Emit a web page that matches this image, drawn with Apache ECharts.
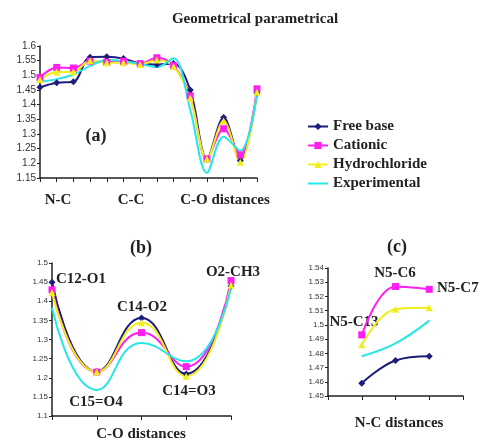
<!DOCTYPE html>
<html>
<head>
<meta charset="utf-8">
<script src="https://cdn.jsdelivr.net/npm/echarts@6/dist/echarts.min.js"></script>
<style>
  html, body { margin: 0; padding: 0; background: #fff; }
  #chart { width: 481px; height: 441px; }
</style>
</head>
<body>
<div id="chart"></div>
<script>
// bond names
const ncCats = ['N5-C13', 'N5-C6', 'N5-C7']
const ccCats = ['C-C1', 'C-C2', 'C-C3', 'C-C4', 'C-C5', 'C-C6']
const coCats = ['C12-O1', 'C15=O4', 'C14-O2', 'C14=O3', 'O2-CH3']

// bond lengths (A)
const freeNC = [1.459, 1.475, 1.478]
const freeCC = [1.562, 1.563, 1.557, 1.540, 1.537, 1.540]
const freeCO = [1.450, 1.216, 1.356, 1.210, 1.440]
const catNC = [1.493, 1.527, 1.525]
const catCC = [1.548, 1.545, 1.548, 1.540, 1.560, 1.533]
const catCO = [1.430, 1.215, 1.318, 1.229, 1.454]
const hydNC = [1.486, 1.511, 1.512]
const hydCC = [1.550, 1.543, 1.543, 1.537, 1.552, 1.530]
const hydCO = [1.423, 1.215, 1.344, 1.204, 1.442]
const expNC = [1.478, 1.487, 1.503]
const expCC = [1.532, 1.552, 1.548, 1.539, 1.528, 1.558]
const expCO = [1.383, 1.168, 1.291, 1.243, 1.435]

const seriesDefs = [
  { name: 'Free base', color: '#1c1c7a', symbol: 'diamond', size: 7, nc: freeNC, cc: freeCC, co: freeCO },
  { name: 'Cationic', color: '#ff1ef0', symbol: 'rect', size: 7, nc: catNC, cc: catCC, co: catCO },
  { name: 'Hydrochloride', color: '#f2ee1a', symbol: 'triangle', size: 7, nc: hydNC, cc: hydCC, co: hydCO },
  { name: 'Experimental', color: '#26e6e6', symbol: 'none', size: 0, nc: expNC, cc: expCC, co: expCO }
]

const serif = '"Liberation Serif", "Times New Roman", serif'
const axisLine = { show: true, lineStyle: { color: '#222', width: 1.5 } }

function yAxis(idx, min, max, interval, fs){
  return {
    type: 'value', gridIndex: idx, min: min, max: max, interval: interval,
    axisLine: axisLine,
    axisTick: { show: true, length: 3, lineStyle: { color: '#222' } },
    axisLabel: {
      margin: 4, fontSize: fs, color: '#333',
      fontFamily: '"Liberation Sans", Arial, sans-serif',
      formatter: v => +v.toFixed(2) + ''
    },
    splitLine: { show: false }
  }
}
function xAxis(idx, cats){
  return {
    type: 'category', gridIndex: idx, data: cats, boundaryGap: false,
    axisLine: axisLine,
    axisTick: { show: true, length: 4, interval: 0, lineStyle: { color: '#222' } },
    axisLabel: { show: false }
  }
}

const chart = echarts.init(document.getElementById('chart'))

const series = []
seriesDefs.forEach(d => {
  const base = {
    name: d.name, type: 'line', smooth: 0.35,
    symbol: d.symbol, symbolSize: d.size, showSymbol: d.symbol !== 'none',
    lineStyle: { color: d.color, width: 2 },
    itemStyle: { color: d.color },
    emphasis: { disabled: true }
  }
  series.push(Object.assign({}, base, { xAxisIndex: 0, yAxisIndex: 0, data: d.nc.concat(d.cc, d.co) }))
  series.push(Object.assign({}, base, { xAxisIndex: 1, yAxisIndex: 1, smooth: 0.5, data: d.co }))
  series.push(Object.assign({}, base, { xAxisIndex: 2, yAxisIndex: 2, smooth: 0.4, data: [null].concat(d.nc, [null]) }))
})

function txt(x, y, text, size, align){
  return {
    type: 'text', x: x, y: y,
    style: { text: text, font: 'bold ' + size + 'px ' + serif, fill: '#222', align: align || 'center', verticalAlign: 'middle' }
  }
}

const option = {
  animation: false,
  title: {
    text: 'Geometrical parametrical', left: 250, top: 7, textAlign: 'center',
    textStyle: { fontFamily: serif, fontSize: 15, fontWeight: 'bold', color: '#222' }
  },
  legend: {
    orient: 'vertical', left: 302, top: 114,
    itemWidth: 20, itemHeight: 9, itemGap: 4,
    data: seriesDefs.map(d => d.symbol === 'none'
      ? { name: d.name, itemStyle: { opacity: 0 } }
      : { name: d.name }),
    textStyle: { fontFamily: serif, fontSize: 15, fontWeight: 'bold', color: '#222' }
  },
  grid: [
    { left: 40, top: 46, width: 217, height: 132 },
    { left: 52, top: 263, width: 179, height: 153 },
    { left: 328, top: 268, width: 135, height: 128 }
  ],
  xAxis: [xAxis(0, ncCats.concat(ccCats, coCats)), xAxis(1, coCats), xAxis(2, [''].concat(ncCats, ['']))],
  yAxis: [yAxis(0, 1.15, 1.6, 0.05, 10), yAxis(1, 1.1, 1.5, 0.05, 8), yAxis(2, 1.45, 1.54, 0.01, 8)],
  series: series,
  graphic: [
    txt(96, 136, '(a)', 18),
    txt(58, 200, 'N-C', 15),
    txt(131, 200, 'C-C', 15),
    txt(225, 200, 'C-O distances', 15),
    txt(141, 248, '(b)', 18),
    txt(141, 434, 'C-O distances', 15),
    txt(56, 279, 'C12-O1', 15, 'left'),
    txt(142, 307, 'C14-O2', 15),
    txt(96, 402, 'C15=O4', 15),
    txt(189, 391, 'C14=O3', 15),
    txt(233, 272, 'O2-CH3', 15),
    txt(397, 247, '(c)', 18),
    txt(399, 423, 'N-C distances', 15),
    txt(354, 322, 'N5-C13', 15),
    txt(395, 273, 'N5-C6', 15),
    txt(437, 288, 'N5-C7', 15, 'left')
  ]
}
chart.setOption(option)
</script>
</body>
</html>
